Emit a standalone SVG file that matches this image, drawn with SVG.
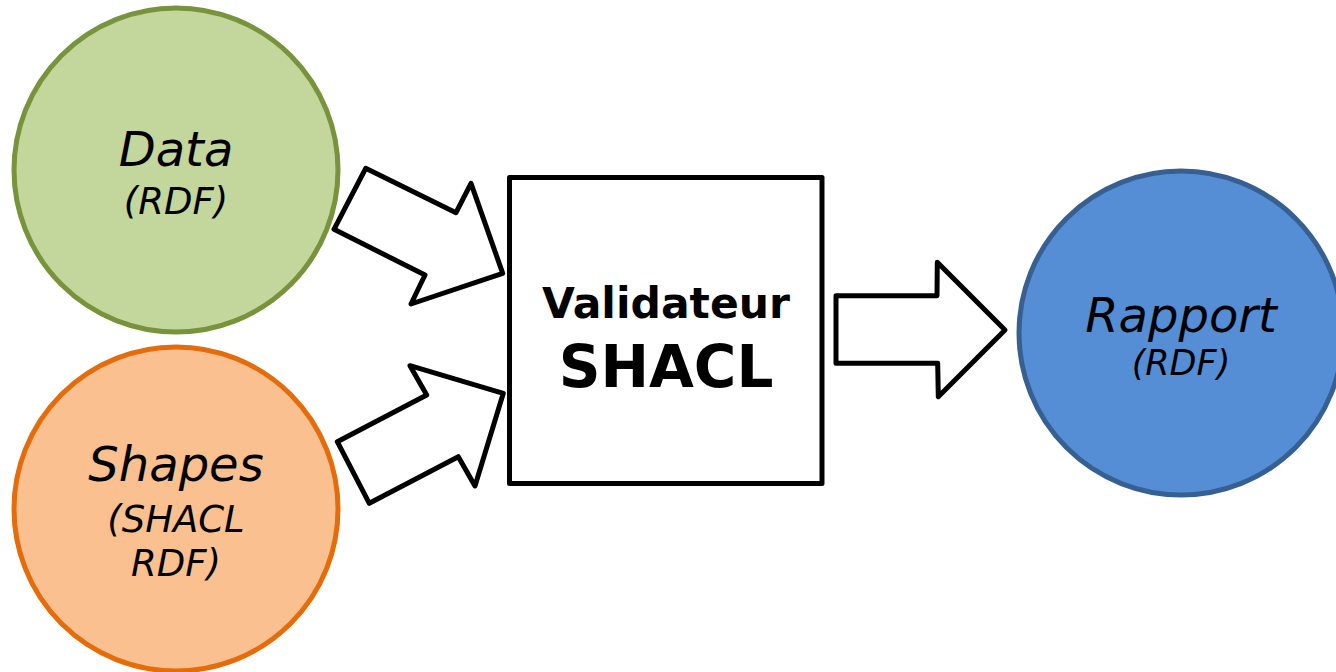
<svg xmlns="http://www.w3.org/2000/svg" width="1336" height="672" viewBox="0 0 1336 672">
<style>
.it{font-family:"DejaVu Sans",sans-serif;font-style:oblique;fill:#000;text-anchor:middle}
.bd{font-family:"DejaVu Sans",sans-serif;font-weight:bold;fill:#000;text-anchor:middle}
.arr{fill:#fff;stroke:#000;stroke-width:5;stroke-linejoin:round}
</style>
<rect width="1336" height="672" fill="#fff"/>
<g id="data">
<circle cx="176" cy="170" r="162" fill="#C3D69B" stroke="#77933C" stroke-width="5"/>
<text class="it" x="176" y="166" font-size="48">Data</text>
<text class="it" x="176" y="214" font-size="37">(RDF)</text>
</g>
<g id="shapes">
<circle cx="176" cy="509" r="162" fill="#FAC090" stroke="#E46C0A" stroke-width="5"/>
<text class="it" x="176" y="481" font-size="48">Shapes</text>
<text class="it" x="176" y="532" font-size="37">(SHACL</text>
<text class="it" x="176" y="576" font-size="37">RDF)</text>
</g>
<g id="validateur">
<rect x="509.5" y="177.5" width="312.5" height="306" fill="#fff" stroke="#000" stroke-width="5" stroke-linejoin="round"/>
<text class="bd" x="666" y="318" font-size="42.5">Validateur</text>
<text class="bd" x="666" y="387" font-size="58">SHACL</text>
</g>
<g id="rapport">
<circle cx="1181" cy="333" r="162" fill="#558ED5" stroke="#376092" stroke-width="5"/>
<text class="it" x="1181" y="332" font-size="48">Rapport</text>
<text class="it" x="1181" y="375" font-size="35">(RDF)</text>
</g>
<g id="connectors">
<polygon class="arr" points="365.7,168.3 456,212.7 471,183.3 502.7,273.3 411,304 425,275 334,229.3"/>
<polygon class="arr" points="410,365.7 503.3,393.3 475,486 458.3,456.7 369.3,503.3 337.3,441.7 426.7,395"/>
<polygon class="arr" points="836,295.7 937,295.7 937.3,262.3 1005,330 938.3,396.7 937.7,363.3 836,363.3"/>
</g>
</svg>
